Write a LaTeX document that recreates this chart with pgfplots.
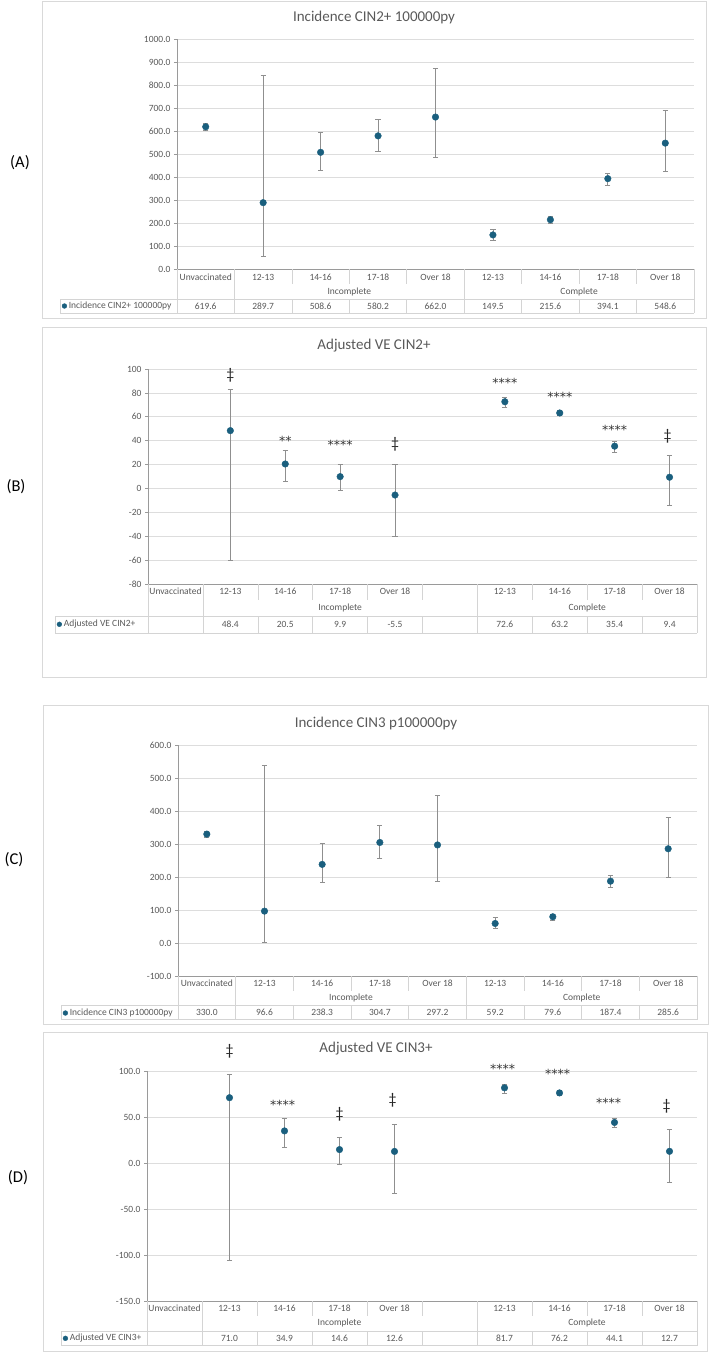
\documentclass[border=0pt]{standalone}
\usepackage{fontspec}
\setmainfont{Carlito}
\newfontfamily\starfont{DejaVu Sans}
\usepackage{pgfplots}
\pgfplotsset{compat=1.18}

\definecolor{dot}{HTML}{1A5F7E}
\definecolor{errgray}{HTML}{8F8F8F}
\definecolor{gridgray}{HTML}{DDDDDD}
\definecolor{axisgray}{HTML}{9A9A9A}
\definecolor{tabgray}{HTML}{D4D4D4}
\definecolor{framegray}{HTML}{D9D9D9}
\definecolor{txtgray}{HTML}{595959}

\newcommand{\lab}{\fontsize{9.5}{11}\selectfont}
\newcommand{\ttl}{\fontsize{15}{17}\selectfont}

\tikzset{
  tabline/.style={draw=tabgray, line width=0.6pt},
  cell/.style={font=\lab, text=txtgray, inner sep=0pt, anchor=center},
  ttlnode/.style={font=\ttl, text=txtgray, anchor=center},
  plab/.style={font=\fontsize{16.5}{19}\selectfont, text=black, anchor=center},
  frame/.style={draw=framegray, line width=0.8pt},
  annot/.style={font=\fontsize{16}{16}\selectfont, text=black!85, inner sep=0pt, anchor=center},
  stars/.style={font=\starfont\fontsize{12.5}{13}\selectfont, text=black!80, inner sep=0pt, anchor=center, yshift=-3pt},
}

\pgfplotsset{
  panel/.style={
    scale only axis, anchor=south west, clip=false,
    xmin=-0.5,
    axis x line*=bottom, axis y line*=left,
    axis line style={draw=axisgray, line width=0.8pt, -},
    xtick=\empty,
    tick align=outside, major tick length=3pt,
    ytick style={draw=axisgray, line width=0.6pt},
    ymajorgrids, grid style={draw=gridgray, line width=0.7pt},
    yticklabel style={font=\lab, text=txtgray, /pgf/number format/.cd, fixed, 1000 sep={}, assume math mode=true},
    legend style={draw=none, fill=none, inner sep=0pt, outer sep=0pt,
      font=\lab, text=txtgray, anchor=west},
    legend cell align=left,
    legend image code/.code={\draw[mark repeat=2, mark phase=2, #1, mark size=2.4pt]
      plot coordinates {(0pt,0pt) (2.6pt,0pt) (5.2pt,0pt)};},
  },
  onedec/.style={yticklabel style={/pgf/number format/.cd, fixed, fixed zerofill, precision=1, 1000 sep={}, assume math mode=true}},
  pts/.style={only marks, mark=*, mark size=3.3pt, mark options={draw=dot, fill=dot},
    error bars/.cd, y dir=both, y explicit,
    error bar style={draw=errgray, line width=0.7pt},
    error mark options={rotate=90, mark size=2.6pt, draw=errgray, line width=0.7pt}},
}

% Category table under a panel.
% Geometry macros: \pl,\pr plot left/right, \pn columns, \pb plot bottom, \tl table left,
% row offsets \rc (categories), \rg (groups), \rt/\rb (value row top/bottom), \rv (values), \rs (short separators)
\newcommand{\drawtable}[4]{%
  \pgfmathsetmacro{\cw}{(\pr-\pl)/\pn}%
  \draw[tabline] (\tl,\pb+\rt) -- (\pr,\pb+\rt) (\tl,\pb+\rb) -- (\pr,\pb+\rb) (\tl,\pb+\rt) -- (\tl,\pb+\rb);
  \foreach \k in {0,...,\pn} {
    \draw[tabline] (\pl+\k*\cw,\pb) -- ++(0,\rs) (\pl+\k*\cw,\pb+\rt) -- (\pl+\k*\cw,\pb+\rb);
  }
  \foreach \k in {#1} { \draw[tabline] (\pl+\k*\cw,\pb) -- (\pl+\k*\cw,\pb+\rb); }
  \foreach \c [count=\i from 0] in {#2} { \node[cell] at (\pl+\i*\cw+0.5*\cw,\pb+\rc) {\c}; }
  \foreach \p/\g in {#3} { \node[cell] at (\pl+\p*\cw+0.5*\cw,\pb+\rg) {\g}; }
  \foreach \p/\v in {#4} { \node[cell] at (\pl+\p*\cw+0.5*\cw,\pb+\rv) {\v}; }
}

\begin{document}
\begin{tikzpicture}[x=1pt, y=-1pt]
\useasboundingbox (0,0) rectangle (709,1353);

% ===================== (A) Incidence CIN2+ =====================
\draw[frame] (42,1) rectangle (706,318);
\node[ttlnode] at (374,17) {Incidence CIN2+ 100000py};
\node[plab] at (20,163) {(A)};
\begin{axis}[panel, onedec, at={(177pt,-269.3pt)}, width=517pt, height=230pt,
  xmax=8.5, ymin=0, ymax=1000, ytick={0,100,...,1000},
  legend style={at={(axis description cs:-0.2224,-0.1596)}}]
\addplot[pts] coordinates {
  (0,619.6) += (0,14.4)  -= (0,14.6)
  (1,289.7) += (0,555.3) -= (0,231.7)
  (2,508.6) += (0,88.4)  -= (0,79.6)
  (3,580.2) += (0,71.8)  -= (0,68.2)
  (4,662.0) += (0,212.0) -= (0,174.0)
  (5,149.5) += (0,24.5)  -= (0,24.5)
  (6,215.6) += (0,14.4)  -= (0,15.6)
  (7,394.1) += (0,23.9)  -= (0,27.1)
  (8,548.6) += (0,140.4) -= (0,120.6)
};
\addlegendentry{Incidence CIN2+ 100000py}
\end{axis}
\def\pl{177}\def\pr{694}\def\pn{9}\def\pb{269.3}\def\tl{60}
\def\rc{7.7}\def\rg{22.7}\def\rt{29.7}\def\rv{36.7}\def\rb{43.7}\def\rs{15}
\drawtable{0,1,5,9}{Unvaccinated,12-13,14-16,17-18,Over 18,12-13,14-16,17-18,Over 18}
  {2.5/Incomplete,6.5/Complete}
  {0/619.6,1/289.7,2/508.6,3/580.2,4/662.0,5/149.5,6/215.6,7/394.1,8/548.6}

% ===================== (B) Adjusted VE CIN2+ =====================
\draw[frame] (42,327) rectangle (706,677);
\node[ttlnode] at (374,346) {Adjusted VE CIN2+};
\node[plab] at (16,487) {(B)};
\begin{axis}[panel, at={(148pt,-584pt)}, width=549pt, height=215pt,
  xmax=9.5, ymin=-80, ymax=100, ytick={-80,-60,...,100},
  legend style={at={(axis description cs:-0.1658,-0.1874)}}]
\addplot[pts] coordinates {
  (1,48.4) += (0,34.9) -= (0,108.6)
  (2,20.5) += (0,11.7) -= (0,14.8)
  (3,9.9)  += (0,9.9)  -= (0,11.8)
  (4,-5.5) += (0,25.7) -= (0,34.3)
  (6,72.6) += (0,4.0)  -= (0,5.0)
  (7,63.2) += (0,1.8)  -= (0,2.2)
  (8,35.4) += (0,3.8)  -= (0,4.9)
  (9,9.4)  += (0,18.6) -= (0,23.8)
};
\addlegendentry{Adjusted VE CIN2+}
\node[annot] at (axis cs:1,95) {‡};
\node[stars] at (axis cs:2,42.5) {**};
\node[stars] at (axis cs:3,38.6) {****};
\node[annot] at (axis cs:4,37.2) {‡};
\node[stars] at (axis cs:6,90.8) {****};
\node[stars] at (axis cs:7,79.6) {****};
\node[stars] at (axis cs:8,51.7) {****};
\node[annot] at ([xshift=-2pt]axis cs:9,43.9) {‡};
\end{axis}
\def\pl{148}\def\pr{697}\def\pn{10}\def\pb{584}\def\tl{55}
\def\rc{7.7}\def\rg{23.7}\def\rt{32}\def\rv{40.3}\def\rb{49}\def\rs{16}
\drawtable{0,1,6,10}{Unvaccinated,12-13,14-16,17-18,Over 18,{},12-13,14-16,17-18,Over 18}
  {3/Incomplete,7.5/Complete}
  {1/48.4,2/20.5,3/9.9,4/-5.5,6/72.6,7/63.2,8/35.4,9/9.4}

% ===================== (C) Incidence CIN3 =====================
\draw[frame] (43,705) rectangle (708,1024);
\node[ttlnode] at (376,723) {Incidence CIN3 p100000py};
\node[plab] at (14,860) {(C)};
\begin{axis}[panel, onedec, at={(178pt,-976pt)}, width=519pt, height=231pt,
  xmax=8.5, ymin=-100, ymax=600, ytick={-100,0,...,600},
  legend style={at={(axis description cs:-0.2216,-0.1602)}}]
\addplot[pts] coordinates {
  (0,330.0) += (0,8.0)   -= (0,10.0)
  (1,96.6)  += (0,440.4) -= (0,94.6)
  (2,238.3) += (0,63.7)  -= (0,54.3)
  (3,304.7) += (0,52.3)  -= (0,48.7)
  (4,297.2) += (0,151.8) -= (0,111.2)
  (5,59.2)  += (0,17.8)  -= (0,14.2)
  (6,79.6)  += (0,7.4)   -= (0,9.6)
  (7,187.4) += (0,16.6)  -= (0,19.4)
  (8,285.6) += (0,95.4)  -= (0,85.6)
};
\addlegendentry{Incidence CIN3 p100000py}
\end{axis}
\def\pl{178}\def\pr{697}\def\pn{9}\def\pb{976}\def\tl{61}
\def\rc{7.3}\def\rg{21.7}\def\rt{29.7}\def\rv{36.7}\def\rb{43.7}\def\rs{14.5}
\drawtable{0,1,5,9}{Unvaccinated,12-13,14-16,17-18,Over 18,12-13,14-16,17-18,Over 18}
  {2.5/Incomplete,6.5/Complete}
  {0/330.0,1/96.6,2/238.3,3/304.7,4/297.2,5/59.2,6/79.6,7/187.4,8/285.6}

% ===================== (D) Adjusted VE CIN3+ =====================
\draw[frame] (43,1032) rectangle (707,1351);
\node[ttlnode] at (376,1049) {Adjusted VE CIN3+};
\node[plab] at (18,1178) {(D)};
\begin{axis}[panel, onedec, at={(147pt,-1301pt)}, width=550pt, height=230pt,
  xmax=9.5, ymin=-150, ymax=100, ytick={-150,-100,...,100},
  legend style={at={(axis description cs:-0.1527,-0.1622)}}]
\addplot[pts] coordinates {
  (1,71.0) += (0,25.0) -= (0,177.0)
  (2,34.9) += (0,14.1) -= (0,17.9)
  (3,14.6) += (0,13.4) -= (0,15.6)
  (4,12.6) += (0,29.9) -= (0,45.6)
  (6,81.7) += (0,4.3)  -= (0,5.7)
  (7,76.2) += (0,2.8)  -= (0,2.7)
  (8,44.1) += (0,4.9)  -= (0,5.6)
  (9,12.7) += (0,23.6) -= (0,33.2)
};
\addlegendentry{Adjusted VE CIN3+}
\node[annot] at (axis cs:1,121.3) {‡};
\node[stars] at ([xshift=-2pt]axis cs:2,67) {****};
\node[annot] at (axis cs:3,53) {‡};
\node[annot] at ([xshift=-2pt]axis cs:4,68) {‡};
\node[stars] at ([xshift=-2pt]axis cs:6,106) {****};
\node[stars] at ([xshift=-2pt]axis cs:7,100) {****};
\node[stars] at ([xshift=-6pt]axis cs:8,69) {****};
\node[annot] at ([xshift=-3pt]axis cs:9,62) {‡};
\end{axis}
\def\pl{147}\def\pr{697}\def\pn{10}\def\pb{1301}\def\tl{61}
\def\rc{7.3}\def\rg{22.3}\def\rt{30.7}\def\rv{37.3}\def\rb{44.7}\def\rs{15}
\drawtable{0,1,6,10}{Unvaccinated,12-13,14-16,17-18,Over 18,{},12-13,14-16,17-18,Over 18}
  {3/Incomplete,7.5/Complete}
  {1/71.0,2/34.9,3/14.6,4/12.6,6/81.7,7/76.2,8/44.1,9/12.7}
\end{tikzpicture}
\end{document}
